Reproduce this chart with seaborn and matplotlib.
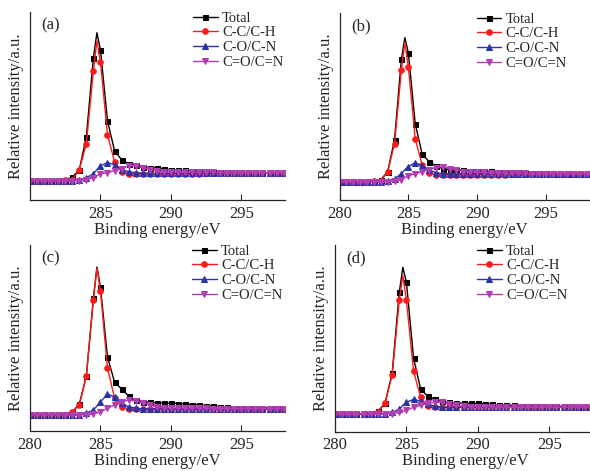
import matplotlib
matplotlib.use('Agg')
import matplotlib.pyplot as plt
import pandas as pd
import seaborn as sns

# Binding energy grid (eV); 284.75 is the fitted peak top, drawn without marker
energy = [280.0, 280.5, 281.0, 281.5, 282.0, 282.5, 283.0, 283.5, 284.0, 284.5,
          284.75, 285.0, 285.5, 286.0, 286.5, 287.0, 287.5, 288.0, 288.5, 289.0,
          289.5, 290.0, 290.5, 291.0, 291.5, 292.0, 292.5, 293.0, 293.5, 294.0,
          294.5, 295.0, 295.5, 296.0, 296.5, 297.0, 297.5, 298.0]

series_names = ['Total', 'C-C/C-H', 'C-O/C-N', 'C=O/C=N']
panel_labels = ['(a)', '(b)', '(c)', '(d)']

# Relative intensity (a.u.)
total_a = [0, 0, 0, 0, 0.5, 1, 3.5, 11, 44, 123, 148, 131, 60, 30, 21, 17, 16, 14, 13, 13,
           12, 11, 11, 10.5, 10, 9.5, 9, 9, 8.5, 8.5, 8.5, 8, 8, 8, 8, 8, 8, 8]
cc_a = [0, 0, 0, 0, 0, 0.5, 1, 11, 37, 110, 140, 119, 46, 19, 9, 7, 7, 7, 7, 7,
        7, 7, 7, 7, 7, 7, 7.5, 7.5, 7.5, 7.5, 7.5, 8, 8, 8, 8, 8, 8, 8]
co_a = [0, 0, 0, 0, 0, 0, 0, 1, 3, 7, 11, 15, 18, 16, 11, 9, 8, 7.5, 7.5, 7.5,
        7.5, 7.5, 7.5, 7.5, 7.5, 7.5, 7.5, 7.5, 7.5, 8, 8, 8, 8, 8, 8, 8, 8, 8]
cdo_a = [0, 0, 0, 0, 0, 0, 0, 0, 1, 3, 5, 7, 8, 10, 12, 15, 15, 13, 11, 10,
         9, 9, 8.5, 8.5, 8.5, 8.5, 8.5, 8.5, 8, 8, 8, 8, 8, 8, 8, 8, 8, 8]

total_b = [0, 0, 0, 0, 0.5, 1, 2, 10, 42, 123, 144, 129, 58, 28, 20, 16, 13, 12, 12, 11.5,
           11, 11, 10.5, 10.5, 10, 10, 9.5, 9.5, 9, 9, 8.5, 8.5, 8, 8, 8, 8, 8, 8]
cc_b = [0, 0, 0, 0, 0, 0.5, 1, 10, 38, 112, 139, 115, 43, 17, 9, 7, 7, 7, 7, 7,
        7, 7, 7, 7, 7, 7, 7.5, 7.5, 7.5, 7.5, 7.5, 8, 8, 8, 8, 8, 8, 8]
co_b = [0, 0, 0, 0, 0, 0, 0, 1, 3, 8, 12, 15, 19, 16, 12, 9, 8, 8, 8, 8,
        8, 8, 8, 8, 8, 8, 8, 8, 8, 8, 8, 8, 8, 8, 8, 8, 8, 8]
cdo_b = [0, 0, 0, 0, 0, 0, 0, 0, 1, 2, 4, 6, 8, 10, 12, 14, 15, 13, 12, 10,
         10, 9.5, 9.5, 9, 9, 8.5, 8.5, 8.5, 8.5, 8, 8, 8, 8, 8, 8, 8, 8, 8]

total_c = [0, 0, 0, 0, 0.5, 1, 3, 11, 39, 117, 148, 128, 58, 33, 26, 19, 15, 13, 13, 12,
           12, 12, 11.5, 11, 10.5, 10, 9.5, 9, 8.5, 8, 7.5, 7.5, 7.5, 7, 7, 7, 7, 7]
cc_c = [0, 0, 0, 0, 0, 0.5, 3, 10, 39, 115, 147, 124, 47, 17, 8, 6, 6, 6, 6, 6,
        6, 6, 6, 6, 6, 6, 6, 6, 6, 6, 6, 6, 6, 6, 6, 6, 6, 6]
co_c = [0, 0, 0, 0, 0, 0, 0, 0.5, 2, 5, 9, 13, 21, 18, 12, 8, 7, 6, 6, 6,
        6, 6, 6, 6, 6, 6, 6, 6, 6, 6, 6, 6, 6, 6, 6, 6, 6, 6]
cdo_c = [0, 0, 0, 0, 0, 0, 0, 0, 0.5, 1, 2, 3, 7, 10, 13, 15, 14, 12, 10, 8,
         7.5, 7, 7, 7, 7, 7, 7, 6.5, 6.5, 6.5, 6.5, 6.5, 6.5, 6.5, 6.5, 6.5, 6.5, 6.5]

total_d = [0, 0, 0, 0, 0.5, 1, 3, 11, 41, 122, 147, 132, 56, 25, 18, 15, 13, 12, 11.5, 11,
           11, 11, 10.5, 10, 9.5, 9, 9, 8.5, 8.5, 8.5, 8, 8, 8, 8, 8, 7.5, 7.5, 7.5]
cc_d = [0, 0, 0, 0, 0, 0.5, 2, 11, 39, 114, 139, 114, 43, 17, 8, 7, 7, 7, 7, 7,
        7, 7, 7, 7, 7, 7, 7, 7, 7, 7, 7, 7, 7, 7, 7, 7, 7, 7]
co_d = [0, 0, 0, 0, 0, 0, 0, 0.5, 2, 5, 9, 12, 15, 13, 10, 8, 7, 7, 7, 7,
        7, 7, 7, 7, 7, 7, 7, 7, 7, 7, 7, 7, 7, 7, 7, 7, 7, 7]
cdo_d = [0, 0, 0, 0, 0, 0, 0, 0, 0.5, 2, 3, 4, 7, 9, 11, 12, 12, 10, 9, 8,
         7.5, 7.5, 7.5, 7.5, 7, 7, 7, 7, 7, 7, 7, 7, 7, 7, 7, 7, 7, 7]

panels = [
    [total_a, cc_a, co_a, cdo_a],
    [total_b, cc_b, co_b, cdo_b],
    [total_c, cc_c, co_c, cdo_c],
    [total_d, cc_d, co_d, cdo_d],
]

colors = ['#000000', '#ff1a1a', '#2a32a8', '#b43cb4']
markers = ['s', 'o', '^', 'v']
msizes = [3.6, 4.0, 4.4, 4.4]

sns.set_style('ticks')
plt.rcParams['font.family'] = ['Liberation Serif', 'DejaVu Serif']

W, H = 590, 471
fig = plt.figure(figsize=(W / 100, H / 100), dpi=100)

# axes frames in pixels: left, top, right, bottom, xmax, ymin, ymax, legend x anchor
frames = [
    (30, 12, 285, 200, 298.1, -19.3, 168.7, 1.0),
    (339.5, 13, 590, 200, 298.2, -18.3, 168.7, 0.915),
    (30, 245, 285, 431, 298.1, -16, 170, 0.995),
    (335, 245, 595, 431.7, 298.2, -17.4, 169.3, 0.9),
]

marker_idx = [i for i, e in enumerate(energy) if e != 284.75]

for p, (vals, fr) in enumerate(zip(panels, frames)):
    l, t, r, b, xmax, ymin, ymax, lx = fr
    ax = fig.add_axes([l / W, 1 - b / H, (r - l) / W, (b - t) / H])
    for name, y, c, m, ms in zip(series_names, vals, colors, markers, msizes):
        df = pd.DataFrame({'energy': energy, 'intensity': y})
        sns.lineplot(data=df, x='energy', y='intensity', ax=ax, color=c,
                     marker=m, markersize=ms, markeredgecolor=c, markevery=marker_idx,
                     linewidth=1.0, label=name)
    ax.set_xlim(280, xmax)
    ax.set_ylim(ymin, ymax)
    ax.set_xticks([285, 290, 295] if p == 0 else [280, 285, 290, 295])
    ax.set_yticks([])
    ax.tick_params(axis='x', direction='in', length=4, width=0.8, labelsize=12, pad=4)
    sns.despine(ax=ax)
    for s in ['left', 'bottom']:
        ax.spines[s].set_linewidth(0.9)
    ax.set_xlabel('Binding energy/eV', fontsize=12, labelpad=0)
    ax.set_ylabel('Relative intensity/a.u.', fontsize=12, labelpad=4)
    ax.text(0.045, 0.93, panel_labels[p], transform=ax.transAxes, fontsize=12,
            va='center', ha='left')
    ax.legend(loc='upper right', bbox_to_anchor=(lx, 1.01),
              frameon=False, fontsize=10.5, handlelength=1.7, handletextpad=0.3,
              labelspacing=0.1, borderaxespad=0.0, borderpad=0.1)

fig.savefig('out.png', dpi=100)
